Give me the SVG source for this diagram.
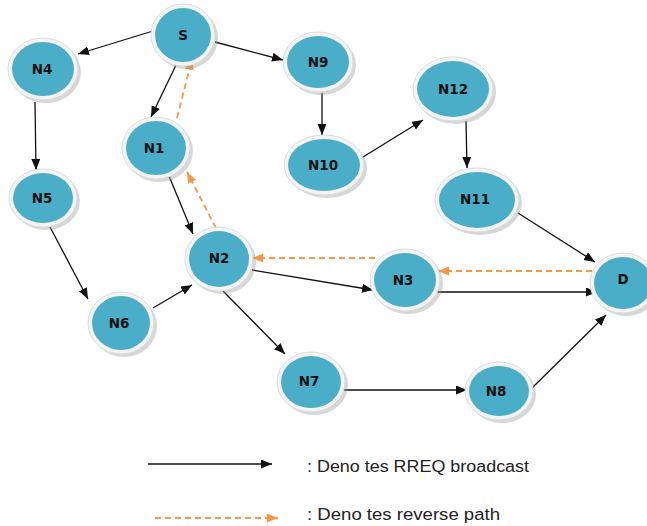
<svg xmlns="http://www.w3.org/2000/svg" width="647" height="526" viewBox="0 0 647 526">
<style>
.shadow{fill:#9a9a9a;opacity:0.4}
.ring{fill:#f4f4f4;stroke:#d8dde0;stroke-width:1}
.core{fill:#4aaec8}
.lbl{font-family:"DejaVu Sans",sans-serif;font-weight:bold;font-size:13.5px;fill:#111;text-anchor:middle}
.fwd{stroke:#111;stroke-width:1.3;fill:none;marker-end:url(#ab)}
.rev{stroke:#f79646;stroke-width:1.8;fill:none;stroke-dasharray:6 4;marker-end:url(#ao)}
.leg{font-family:"Liberation Sans",sans-serif;font-size:16px;fill:#222}
</style>
<defs>
<marker id="ab" markerUnits="userSpaceOnUse" markerWidth="12" markerHeight="10" refX="11" refY="4.5" orient="auto"><path d="M0,0 L11,4.5 L0,9 z" fill="#111"/></marker>
<marker id="ao" markerUnits="userSpaceOnUse" markerWidth="12" markerHeight="10" refX="11" refY="4.5" orient="auto"><path d="M0,0 L11,4.5 L0,9 z" fill="#f79646"/></marker>
</defs>
<rect width="647" height="526" fill="#fff"/>
<g id="connectors">
<line class="fwd" x1="153" y1="31" x2="78" y2="54"/>
<line class="fwd" x1="215" y1="42" x2="283" y2="60"/>
<line class="fwd" x1="177" y1="63" x2="151" y2="117"/>
<line class="fwd" x1="35" y1="102" x2="36" y2="170"/>
<line class="fwd" x1="322" y1="93" x2="322" y2="135"/>
<line class="fwd" x1="363" y1="157" x2="423" y2="120"/>
<line class="fwd" x1="466" y1="121" x2="467" y2="168"/>
<line class="fwd" x1="518" y1="213" x2="595" y2="262"/>
<line class="fwd" x1="169" y1="176" x2="193" y2="234"/>
<line class="fwd" x1="50" y1="227" x2="88" y2="299"/>
<line class="fwd" x1="153" y1="308" x2="192" y2="285"/>
<line class="fwd" x1="252" y1="270" x2="373" y2="290"/>
<line class="fwd" x1="223" y1="291" x2="285" y2="354"/>
<line class="fwd" x1="435" y1="292" x2="597" y2="292"/>
<line class="fwd" x1="342" y1="390" x2="467" y2="390"/>
<line class="fwd" x1="531" y1="389" x2="606" y2="315"/>
<line class="rev" x1="592" y1="271" x2="438" y2="271"/>
<line class="rev" x1="375" y1="258" x2="252" y2="258"/>
<line class="rev" x1="216" y1="228" x2="187" y2="172"/>
<line class="rev" x1="177" y1="118" x2="192" y2="59"/>
</g>
<g id="S"><ellipse class="shadow" cx="186" cy="38" rx="32" ry="31"/><ellipse class="ring" cx="183" cy="35" rx="32" ry="31"/><ellipse class="core" cx="183" cy="35" rx="28" ry="27"/><text class="lbl" x="183" y="40">S</text></g>
<g id="N4"><ellipse class="shadow" cx="46" cy="72" rx="35" ry="31"/><ellipse class="ring" cx="43" cy="69" rx="35" ry="31"/><ellipse class="core" cx="43" cy="69" rx="31" ry="27"/><text class="lbl" x="42" y="74">N4</text></g>
<g id="N9"><ellipse class="shadow" cx="321" cy="65" rx="35" ry="30"/><ellipse class="ring" cx="318" cy="62" rx="35" ry="30"/><ellipse class="core" cx="318" cy="62" rx="31" ry="26"/><text class="lbl" x="318" y="67">N9</text></g>
<g id="N12"><ellipse class="shadow" cx="456" cy="92" rx="40" ry="32"/><ellipse class="ring" cx="453" cy="89" rx="40" ry="32"/><ellipse class="core" cx="453" cy="89" rx="36" ry="28"/><text class="lbl" x="453" y="94">N12</text></g>
<g id="N1"><ellipse class="shadow" cx="159" cy="151" rx="34" ry="31"/><ellipse class="ring" cx="156" cy="148" rx="34" ry="31"/><ellipse class="core" cx="156" cy="148" rx="30" ry="27"/><text class="lbl" x="154" y="153">N1</text></g>
<g id="N10"><ellipse class="shadow" cx="327" cy="168" rx="40" ry="30"/><ellipse class="ring" cx="324" cy="165" rx="40" ry="30"/><ellipse class="core" cx="324" cy="165" rx="36" ry="26"/><text class="lbl" x="323" y="170">N10</text></g>
<g id="N11"><ellipse class="shadow" cx="480" cy="203" rx="42" ry="32"/><ellipse class="ring" cx="477" cy="200" rx="42" ry="32"/><ellipse class="core" cx="477" cy="200" rx="38" ry="28"/><text class="lbl" x="475" y="204">N11</text></g>
<g id="N5"><ellipse class="shadow" cx="46" cy="201" rx="34" ry="29"/><ellipse class="ring" cx="43" cy="198" rx="34" ry="29"/><ellipse class="core" cx="43" cy="198" rx="30" ry="25"/><text class="lbl" x="42" y="203">N5</text></g>
<g id="N2"><ellipse class="shadow" cx="222" cy="262" rx="34" ry="32"/><ellipse class="ring" cx="219" cy="259" rx="34" ry="32"/><ellipse class="core" cx="219" cy="259" rx="30" ry="28"/><text class="lbl" x="219" y="263">N2</text></g>
<g id="N3"><ellipse class="shadow" cx="408" cy="283" rx="35" ry="31"/><ellipse class="ring" cx="405" cy="280" rx="35" ry="31"/><ellipse class="core" cx="405" cy="280" rx="31" ry="27"/><text class="lbl" x="403" y="285">N3</text></g>
<g id="D"><ellipse class="shadow" cx="626" cy="286" rx="33" ry="30"/><ellipse class="ring" cx="623" cy="283" rx="33" ry="30"/><ellipse class="core" cx="623" cy="283" rx="29" ry="26"/><text class="lbl" x="623" y="284">D</text></g>
<g id="N6"><ellipse class="shadow" cx="124" cy="326" rx="33" ry="31"/><ellipse class="ring" cx="121" cy="323" rx="33" ry="31"/><ellipse class="core" cx="121" cy="323" rx="29" ry="27"/><text class="lbl" x="119" y="328">N6</text></g>
<g id="N7"><ellipse class="shadow" cx="314" cy="385" rx="34" ry="30"/><ellipse class="ring" cx="311" cy="382" rx="34" ry="30"/><ellipse class="core" cx="311" cy="382" rx="30" ry="26"/><text class="lbl" x="309" y="386">N7</text></g>
<g id="N8"><ellipse class="shadow" cx="502" cy="394" rx="34" ry="29"/><ellipse class="ring" cx="499" cy="391" rx="34" ry="29"/><ellipse class="core" cx="499" cy="391" rx="30" ry="25"/><text class="lbl" x="496" y="396">N8</text></g>
<g id="legend">
<line class="fwd" x1="148" y1="464" x2="272" y2="464"/>
<text class="leg" x="307" y="472" textLength="222" lengthAdjust="spacingAndGlyphs">: Deno tes RREQ broadcast</text>
<line class="rev" x1="155" y1="518" x2="278" y2="518"/>
<text class="leg" x="307" y="520" textLength="193" lengthAdjust="spacingAndGlyphs">: Deno tes reverse path</text>
</g>
</svg>
